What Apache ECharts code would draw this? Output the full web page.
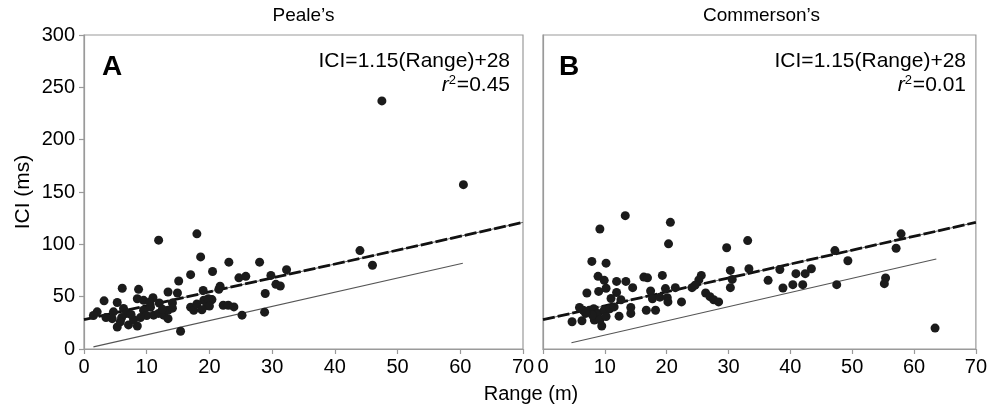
<!DOCTYPE html>
<html>
<head>
<meta charset="utf-8">
<script src="https://cdn.jsdelivr.net/npm/echarts@6/dist/echarts.min.js"></script>
<style>
html,body{margin:0;padding:0;background:#fff;}
#chart{width:990px;height:408px;}
</style>
</head>
<body>
<div id="chart"></div>
<script>
// ---- data ----
const panelTitles = ["Peale\u2019s", "Commerson\u2019s"];
const panelLetters = ["A", "B"];
const equations = ["ICI=1.15(Range)+28", "ICI=1.15(Range)+28"];
const r2Values = ["0.45", "0.01"];
const xTicks = [0, 10, 20, 30, 40, 50, 60, 70];
const yTicks = [0, 50, 100, 150, 200, 250, 300];

const pealePoints = [
  [47.5,237],[60.5,157],[44,94],[46,80],[11.9,104],[18,110],[18.6,88],[20.5,74],[17,71],[15.1,65],
  [6.1,58],[8.7,57],[13.4,54.5],[14.9,53.5],[3.2,46],[5.3,44.4],[8.5,48],[9.5,46.5],[11,49],[14.1,44],
  [19,56],[19.1,46.6],[2.1,35.5],[1.5,32],[4.7,35.5],[6.3,38.7],[6.8,34],[4.5,29],[5.3,21],[7.1,23],
  [8.5,22],[7.9,28],[9.5,37],[10,32],[11.1,32.3],[11.9,34],[10.6,40],[12.7,32.3],[13.4,37],[14.1,39],
  [13.4,29],[15.4,17],[17,40],[17.5,37],[18,43],[19.6,41.5],[20.3,47],
  [23.1,83],[28,83],[24.7,68],[25.8,69.4],[29.8,70.3],[32.3,75.7],[30.6,61.8],[31.3,60.2],[21.7,60],
  [21.5,57],[28.9,53],[20.4,47.2],[19.8,48],[20,41],[22.2,41.8],[23,41.8],[23.9,40.2],[25.2,32.3],
  [28.8,35.2],[18.8,37.5],[6,30],[7.5,33],[9,30],[10.5,45],[12,44],[3.5,30],[5.8,26],[12.5,38]
];
const commersonPoints = [
  [13.3,127.4],[9.2,114.7],[20.6,121],[20.3,100.5],[7.9,83.7],[10.2,82],[8.9,69.4],[9.9,65.6],[11.9,64.6],[13.4,64.6],
  [14.5,58.6],[16.3,68.7],[16.9,68],[19.3,70.3],[7.1,53.5],[9,55],[10.2,58],[11.9,54],[11,48.2],[12.6,47],
  [17.4,55.4],[17.7,48],[18.9,49.5],[19.8,57.7],[5.9,39.6],[6.5,37],[7.5,37],[8.2,38.5],[8.9,33.9],[9.9,37],
  [10.8,38.5],[11.5,40.2],[12.3,31.4],[14.2,39.6],[14.2,34],[16.7,37],[18.2,37],[4.7,26],[6.3,27],[8.3,27.6],
  [9.5,22],[9.2,28],[10.2,31],[8,32.5],[6.9,34],
  [29.7,96.7],[33.1,103.6],[25.6,70.3],[25.2,66],[30.3,75.1],[33.3,76.7],[36.4,65.6],[30.6,66.5],[30.3,58.6],
  [21.4,58.6],[24.1,58.6],[24.6,61],[20.1,49],[22.4,45],[26.3,53.5],[27,50],[27.6,47],[28.4,45],[20.2,45],
  [38.3,76],[38.8,58.3],[40.4,61.5],[40.9,72],[42,61.5],[42.4,72],[43.4,76.7],[47.2,94],[49.3,84.3],[47.5,61.5],
  [55.4,67.8],[55.2,62.4],[57.1,96.3],[57.9,110],[63.4,20]
];
const fitLineA = [[0,28],[70,121]];
const fitLineB = [[0,28],[70,121]];
const travelLineA = [[1.5,2],[60.4,82]];
const travelLineB = [[4.6,6],[63.6,86]];

// ---- chart ----
const chart = echarts.init(document.getElementById('chart'), null, {renderer:'canvas'});
const FONT = 'Liberation Sans, Arial, Helvetica, sans-serif';
const axisGray = '#9a9a9a';

const grids = [
  {left:84, right:467, top:35, bottom:59},
  {left:543, right:10, top:35, bottom:59}
];

function xAx(i){
  return {
    gridIndex:i, type:'value', min:xTicks[0], max:xTicks[xTicks.length-1], interval:10,
    axisLine:{show:true, lineStyle:{color:axisGray, width:1.2}},
    axisTick:{show:true, length:5, lineStyle:{color:axisGray, width:1.2}},
    axisLabel:{show:true, color:'#000', fontSize:20, fontFamily:FONT, margin:8},
    splitLine:{show:false}
  };
}
function yAx(i){
  return {
    gridIndex:i, type:'value', min:yTicks[0], max:yTicks[yTicks.length-1], interval:50,
    axisLine:{show:true, lineStyle:{color:axisGray, width:1.2}},
    axisTick:{show:i===0, length:5, lineStyle:{color:axisGray, width:1.2}},
    axisLabel:{show:i===0, color:'#000', fontSize:20, fontFamily:FONT, margin:9},
    splitLine:{show:false},
    name: i===0 ? 'ICI (ms)' : '',
    nameLocation:'middle', nameGap:50, nameRotate:90,
    nameTextStyle:{color:'#000', fontSize:21, fontFamily:FONT}
  };
}

function lineSeries(i, data, style){
  return {type:'line', xAxisIndex:i, yAxisIndex:i, data:data, showSymbol:false, symbol:'none',
    silent:true, lineStyle:style, z:2};
}

const series = [];
[[pealePoints, fitLineA, travelLineA],[commersonPoints, fitLineB, travelLineB]].forEach((d,i)=>{
  series.push(lineSeries(i, d[1], {color:'#666', width:1, type:'solid'}));
  series.push(lineSeries(i, d[1], {color:'#111', width:2.8, type:[12,3]}));
  series.push(lineSeries(i, d[2], {color:'#555', width:1.1, type:'solid'}));
  series.push({type:'scatter', xAxisIndex:i, yAxisIndex:i, data:d[0], symbolSize:9,
    itemStyle:{color:'#1b1b1b', opacity:1}, z:3});
});

const panelCenters = [303.5, 761.5];
const eqRight = [990-510, 990-966];
const letterLeft = [102, 559];

const graphics = [];
panelTitles.forEach((t,i)=>{
  graphics.push({type:'text', x:panelCenters[i], y:16,
    style:{text:t, fill:'#000', font:'19px '+FONT, textAlign:'center', textVerticalAlign:'middle'}});
  graphics.push({type:'text', x:letterLeft[i], y:67,
    style:{text:panelLetters[i], fill:'#000', font:'bold 28px '+FONT, textAlign:'left', textVerticalAlign:'middle'}});
});
graphics.push({type:'text', x:531, y:394,
  style:{text:'Range (m)', fill:'#000', font:'20px '+FONT, textAlign:'center', textVerticalAlign:'middle'}});

const titles = [];
equations.forEach((e,i)=>{
  titles.push({text:e, right:eqRight[i], top:50, padding:0,
    textStyle:{color:'#000', fontSize:21, fontWeight:'normal', fontFamily:FONT, lineHeight:23}});
  titles.push({text:'{i|r}{s|2}{n|='+r2Values[i]+'}', right:eqRight[i], top:74, padding:0,
    textStyle:{color:'#000', fontSize:21, fontWeight:'normal', fontFamily:FONT,
      rich:{
        i:{fontStyle:'italic', fontSize:21, fontFamily:FONT, color:'#000', lineHeight:23},
        s:{fontSize:13, fontFamily:FONT, color:'#000', verticalAlign:'top', lineHeight:14, padding:[0,1,0,0]},
        n:{fontSize:21, fontFamily:FONT, color:'#000', lineHeight:23}
      }}});
});

chart.setOption({
  animation:false,
  backgroundColor:'#fff',
  title:titles,
  grid:grids.map(g=>Object.assign({show:true, borderColor:axisGray, borderWidth:1.2, containLabel:false}, g)),
  xAxis:[xAx(0), xAx(1)],
  yAxis:[yAx(0), yAx(1)],
  series:series,
  graphic:graphics
});
</script>
</body>
</html>
